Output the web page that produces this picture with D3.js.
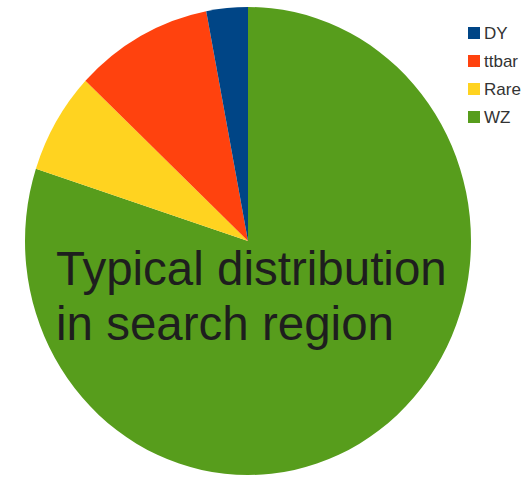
<!DOCTYPE html>
<html>
<head>
<meta charset="utf-8">
<script src="https://cdn.jsdelivr.net/npm/d3@7"></script>
<style>
  html, body { margin: 0; padding: 0; background: #ffffff; }
  svg { display: block; }
</style>
</head>
<body>
<svg id="chart" width="529" height="479"></svg>
<script>
// Sample composition (percent), in drawing order clockwise from 12 o'clock
const categories = ["WZ", "Rare", "ttbar", "DY"];
const shares = [80, 7, 10, 3];
const colors = ["#579d1c", "#ffd320", "#ff420e", "#004586"];
// Legend lists the samples in reverse
const legendOrder = ["DY", "ttbar", "Rare", "WZ"];
const titleLines = ["Typical distribution", "in search region"];

const svg = d3.select("#chart");
const cx = 248, cy = 241, ry = 234, rx = 223;

const color = d3.scaleOrdinal().domain(categories).range(colors);
const rows = categories.map((c, i) => ({ name: c, value: shares[i] }));

const pie = d3.pie().sort(null).value(d => d.value);
const arc = d3.arc().innerRadius(0).outerRadius(ry);

const g = svg.append("g")
  .attr("transform", `translate(${cx},${cy}) scale(${rx / ry},1)`);

g.selectAll("path")
  .data(pie(rows))
  .join("path")
  .attr("d", arc)
  .attr("fill", d => color(d.data.name));

// Caption over the pie
svg.append("g")
  .selectAll("text")
  .data(titleLines)
  .join("text")
  .attr("x", 56)
  .attr("y", (d, i) => 285 + i * 55)
  .attr("font-family", "'Liberation Sans', Arial, sans-serif")
  .attr("font-size", 47.5)
  .attr("fill", "#1e1e1e")
  .text(d => d);

// Legend
const legendY = d3.scalePoint().domain(legendOrder).range([27, 111]);
const legend = svg.append("g")
  .selectAll("g")
  .data(legendOrder)
  .join("g")
  .attr("transform", d => `translate(468,${legendY(d)})`);

legend.append("rect")
  .attr("width", 12)
  .attr("height", 12)
  .attr("fill", d => color(d));

legend.append("text")
  .attr("x", 16)
  .attr("y", 12)
  .attr("font-family", "'Liberation Sans', Arial, sans-serif")
  .attr("font-size", 17)
  .attr("fill", "#333333")
  .text(d => d);
</script>
</body>
</html>
